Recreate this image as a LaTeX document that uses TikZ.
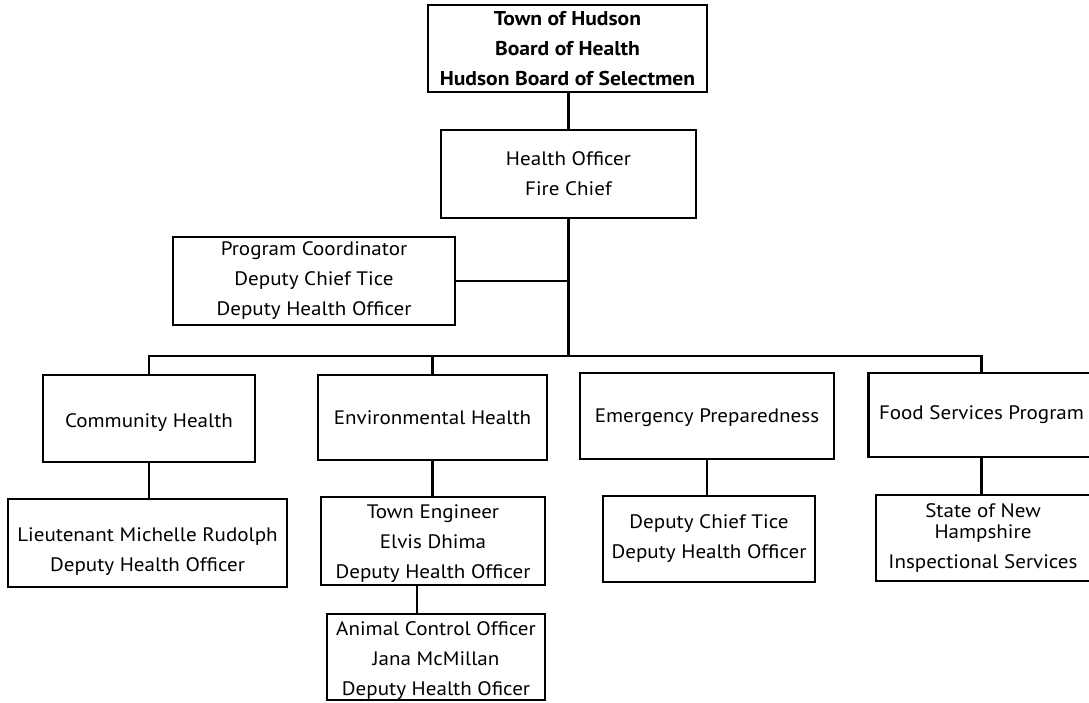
\documentclass[tikz,border=0pt]{standalone}
\usepackage{fontspec}
\setmainfont{PT Sans}[FakeStretch=1.08]
\begin{document}
\begin{tikzpicture}[x=1pt,y=-1pt,
  box/.style={draw=black, line width=2.5pt, inner sep=0pt, align=center,
    font=\fontsize{19.5}{30}\selectfont},
  link/.style={draw=black, line width=2.6pt}]
\useasboundingbox (0,0) rectangle (1089,702);
% boxes
\node[box, minimum width=279pt, minimum height=87pt, font=\fontsize{20}{30}\selectfont\bfseries] (top) at (567.5,48.5)
  {Town of Hudson\\Board of Health\\Hudson Board of Selectmen};
\node[box, minimum width=255pt, minimum height=88pt] (ho) at (568.5,174)
  {Health Officer\\Fire Chief};
\node[box, minimum width=282pt, minimum height=88pt] (pc) at (314,281)
  {Program Coordinator\\Deputy Chief Tice\\Deputy Health Officer};
\node[box, minimum width=212pt, minimum height=87pt] (ch) at (149,418.5)
  {\rule{0pt}{21pt}Community Health};
\node[box, minimum width=229pt, minimum height=85pt] (eh) at (432.5,417.5)
  {Environmental Health};
\node[box, minimum width=254pt, minimum height=86pt] (ep) at (707,416)
  {\rule{0pt}{18pt}Emergency Preparedness};
\node[box, minimum width=226pt, minimum height=84pt] (fs) at (981.5,415)
  {Food Services Program};
\node[box, minimum width=279pt, minimum height=88pt] (lt) at (147.5,543)
  {\rule{0pt}{31pt}Lieutenant Michelle Rudolph\\Deputy Health Officer};
\node[box, minimum width=224pt, minimum height=88pt] (te) at (433,541)
  {\rule{0pt}{18pt}Town Engineer\\Elvis Dhima\\Deputy Health Officer};
\node[box, minimum width=218pt, minimum height=86pt] (ac) at (436,657)
  {\rule{0pt}{20pt}Animal Control Officer\\Jana McMillan\\Deputy Health Oficer};
\node[box, minimum width=212pt, minimum height=86pt] (dc) at (709,539)
  {Deputy Chief Tice\\Deputy Health Officer};
\node[box, minimum width=214pt, minimum height=86pt] (st) at (983,538)
  {State of New\\[-9pt]Hampshire\\Inspectional Services};
% helper coordinates
\coordinate (bus) at (569,356);
\coordinate (tac) at (417,600);
% connectors
\draw[link] (ho.north) -- (ho.north |- top.south);
\draw[link] (ho.south) -- (ho.south |- bus);
\draw[link] (pc.east) -- (pc.east -| ho.south);
\draw[link] (ch.north) -- (ch.north |- bus) -- (fs.north |- bus) -- (fs.north);
\draw[link] (eh.north) -- (eh.north |- bus);
\draw[link] (ch.south) -- (ch.south |- lt.north);
\draw[link] (eh.south) -- (eh.south |- te.north);
\draw[link] (te.south -| tac) -- (ac.north -| tac);
\draw[link] (ep.south) -- (ep.south |- dc.north);
\draw[link] (fs.south) -- (fs.south |- st.north);
\end{tikzpicture}
\end{document}
